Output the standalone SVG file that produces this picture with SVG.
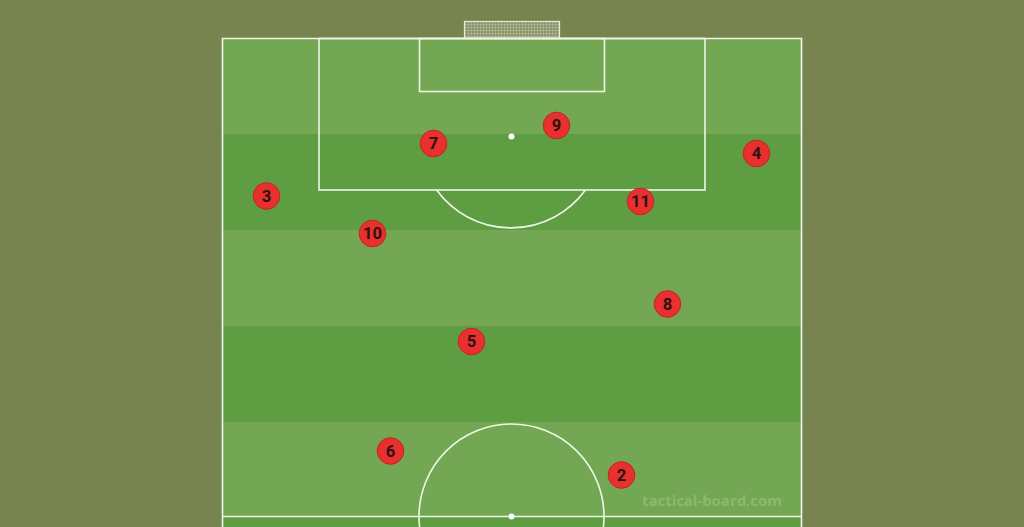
<svg xmlns="http://www.w3.org/2000/svg" width="1024" height="527" viewBox="0 0 1024 527">
<defs>
<style>
.line{fill:none;stroke:#eef7e6;stroke-width:1.6}
.spot{fill:#ffffff}
.light{fill:#73a753}
.dark{fill:#5f9d43}
.player circle{fill:#e8302f;stroke:#c62222;stroke-width:1}
.player text{font-family:Roboto,"Liberation Sans",sans-serif;font-weight:bold;font-size:16.5px;fill:#2e1212;text-anchor:middle;dominant-baseline:central}
.wm{font-family:"Open Sans","Liberation Sans",sans-serif;font-size:15px;fill:#ffffff;fill-opacity:0.2;font-weight:bold}
</style>
<pattern id="net" width="3" height="3" patternUnits="userSpaceOnUse">
<rect width="3" height="3" fill="#8a9468"/>
<path d="M0 0H3M0 0V3" stroke="#c9cfb6" stroke-width="0.8"/>
</pattern>
</defs>
<rect width="1024" height="527" fill="#77844f"/>
<g id="pitch">
<rect class="light" x="222" y="38" width="580" height="96"/>
<rect class="dark" x="222" y="134" width="580" height="96"/>
<rect class="light" x="222" y="230" width="580" height="96"/>
<rect class="dark" x="222" y="326" width="580" height="96"/>
<rect class="light" x="222" y="422" width="580" height="94"/>
<rect class="dark" x="222" y="516" width="580" height="11"/>
<rect id="goal" x="464.5" y="21.5" width="95" height="17" fill="url(#net)" stroke="#e6ebd8" stroke-width="1.2"/>
<path class="line" d="M222.5 527V38.5H801.5V527"/>
<rect class="line" x="319" y="38.5" width="386" height="151.5"/>
<rect class="line" x="419.5" y="38.5" width="185" height="53"/>
<path class="line" d="M436.6 190A92 92 0 0 0 585.4 190"/>
<circle class="spot" cx="511.5" cy="136.5" r="3"/>
<line class="line" x1="222" y1="516.5" x2="802" y2="516.5"/>
<circle class="line" cx="511.5" cy="516.5" r="92.5"/>
<circle class="spot" cx="511.5" cy="516.5" r="3"/>
</g>
<g id="p9" class="player"><circle cx="556.5" cy="125.5" r="13.3"/><text x="556.5" y="125.5">9</text></g>
<g id="p7" class="player"><circle cx="433.5" cy="143.5" r="13.3"/><text x="433.5" y="143.5">7</text></g>
<g id="p4" class="player"><circle cx="756.5" cy="153.5" r="13.3"/><text x="756.5" y="153.5">4</text></g>
<g id="p3" class="player"><circle cx="266.5" cy="196" r="13.3"/><text x="266.5" y="196">3</text></g>
<g id="p11" class="player"><circle cx="640.5" cy="201.5" r="13.3"/><text x="640.5" y="201.5">11</text></g>
<g id="p10" class="player"><circle cx="372.5" cy="233.5" r="13.3"/><text x="372.5" y="233.5">10</text></g>
<g id="p8" class="player"><circle cx="667.5" cy="304" r="13.3"/><text x="667.5" y="304">8</text></g>
<g id="p5" class="player"><circle cx="471.5" cy="341.5" r="13.3"/><text x="471.5" y="341.5">5</text></g>
<g id="p6" class="player"><circle cx="390.5" cy="451" r="13.3"/><text x="390.5" y="451">6</text></g>
<g id="p2" class="player"><circle cx="621.5" cy="475" r="13.3"/><text x="621.5" y="475">2</text></g>
<text class="wm" x="642" y="506" textLength="140">tactical-board.com</text>
<g id="connectors"></g>
</svg>
